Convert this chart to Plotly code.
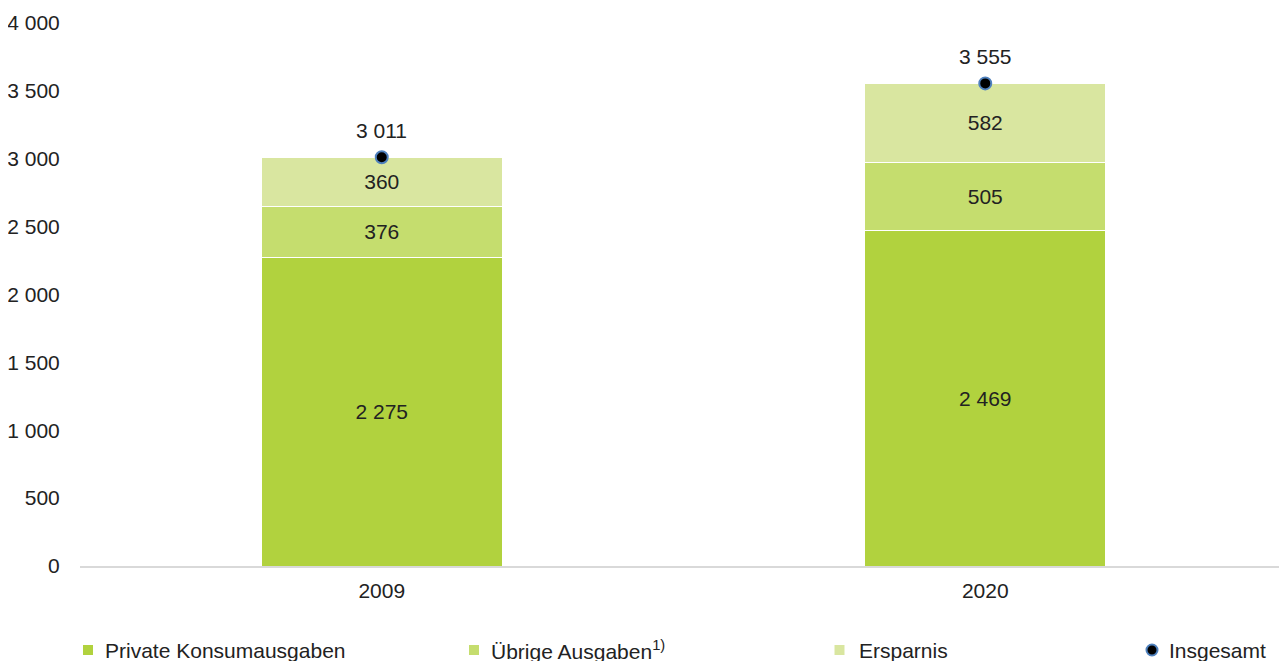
import plotly.graph_objects as go

years = ["2009", "2020"]
private = [2275, 2469]
uebrige = [376, 505]
ersparnis = [360, 582]
insgesamt = [3011, 3555]
y_ticks = [0, 500, 1000, 1500, 2000, 2500, 3000, 3500, 4000]

def fmt(v):
    return f"{v:,}".replace(",", " ")

FONT = "Liberation Sans, Arial, sans-serif"
TXT = "#222222"
FS = 21
W, H = 1279, 655
ML, MR, MT, MB = 72, 0, 15, 97
xpos = list(range(len(years)))

fig = go.Figure()
series = [
    ("Private Konsumausgaben", private, "#b1d23e"),
    ("Übrige Ausgaben<sup>1)</sup>", uebrige, "#c5dd6e"),
    ("Ersparnis", ersparnis, "#d9e6a0"),
]
for name, vals, col in series:
    fig.add_trace(go.Bar(
        x=xpos, y=vals, name=name, marker=dict(color=col, line=dict(color="white", width=1)),
        text=[fmt(v) for v in vals], textposition="inside", insidetextanchor="middle",
        textfont=dict(family=FONT, size=FS, color=TXT), width=0.4, showlegend=False,
    ))
fig.add_trace(go.Scatter(
    x=xpos, y=insgesamt, name="Insgesamt", mode="markers", showlegend=False,
    marker=dict(color="black", size=12, line=dict(color="#4f81bd", width=2)),
))
for xp, v in zip(xpos, insgesamt):
    fig.add_annotation(x=xp, y=v, text=fmt(v), showarrow=False, yshift=27,
                       font=dict(family=FONT, size=FS, color=TXT))

# legend drawn in paper coordinates
pw, ph = W - ML - MR, H - MT - MB
def px(fx):
    return (fx - ML) / pw
def py(fy):
    return (H - MB - fy) / ph

leg_y = 642
leg_items = [
    ("Private Konsumausgaben", series[0][2], 80, 95, "square"),
    ("Übrige Ausgaben<sup>1)</sup>", series[1][2], 466, 481, "square"),
    ("Ersparnis", series[2][2], 831.5, 849, "square"),
    ("Insgesamt", "black", 1144, 1159, "circle"),
]
for label, col, cx, tx, kind in leg_items:
    if kind == "square":
        fig.add_shape(type="rect", xref="paper", yref="paper",
                      x0=px(cx - 5), x1=px(cx + 5), y0=py(leg_y + 5), y1=py(leg_y - 5),
                      fillcolor=col, line=dict(width=0))
    else:
        fig.add_shape(type="circle", xref="paper", yref="paper",
                      x0=px(cx - 5.5), x1=px(cx + 5.5), y0=py(leg_y + 5.5), y1=py(leg_y - 5.5),
                      fillcolor=col, line=dict(color="#4f81bd", width=2))
    fig.add_annotation(xref="paper", yref="paper", x=px(tx), y=py(leg_y), text=label,
                       xanchor="left", yanchor="middle", showarrow=False,
                       font=dict(family=FONT, size=FS, color=TXT))

fig.update_layout(
    barmode="stack",
    width=W, height=H,
    margin=dict(l=ML, r=MR, t=MT, b=MB),
    plot_bgcolor="white", paper_bgcolor="white",
    font=dict(family=FONT, size=FS, color=TXT),
    showlegend=False,
    xaxis=dict(range=[-0.5, 1.5], tickvals=xpos, ticktext=years,
               showgrid=False, zeroline=False, showline=True, linecolor="#d9d9d9", linewidth=1.5,
               ticks="outside", ticklen=5, tickcolor="rgba(0,0,0,0)",
               tickfont=dict(size=FS, color=TXT)),
    yaxis=dict(range=[0, 4000], tickvals=y_ticks, ticktext=[fmt(v) for v in y_ticks],
               showgrid=False, zeroline=False, showline=False,
               ticks="outside", ticklen=15, tickcolor="rgba(0,0,0,0)",
               tickfont=dict(size=FS, color=TXT)),
)
fig.write_html("out.html")
